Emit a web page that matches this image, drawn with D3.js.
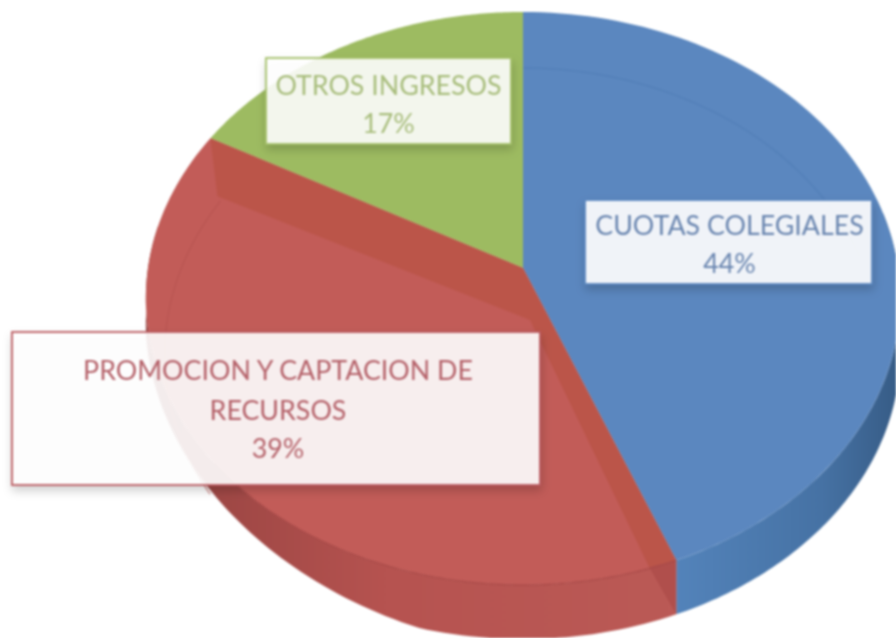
<!DOCTYPE html>
<html><head><meta charset="utf-8">
<style>html,body{margin:0;padding:0;background:#fff}svg{display:block;filter:blur(0.8px)}</style>
<script src="https://cdnjs.cloudflare.com/ajax/libs/d3/7.8.5/d3.min.js"></script>
</head><body><script>
const categories = ["CUOTAS COLEGIALES","PROMOCION Y CAPTACION DE RECURSOS","OTROS INGRESOS"];
const values = [44,39,17];
const labelLines = [["CUOTAS COLEGIALES","44%"],["PROMOCION Y CAPTACION DE","RECURSOS","39%"],["OTROS INGRESOS","17%"]];
const topColors = ["#5b87bf","#c25c58","#9dbb61"];
const sideColors = ["#4a74a6","#b85552","#8aa552"];
const textColors = ["#6a86b0","#b5626a","#a8bd7c"];
const borderColors = ["#5b87bf","#bb5a60","#a5c06a"];
const W=896,H=638;
const svg=d3.select("body").append("svg").attr("width",W).attr("height",H);
const defs=svg.append("defs");
const sh=defs.append("filter").attr("id","sh").attr("x","-10%").attr("y","-10%").attr("width","120%").attr("height","130%");
sh.append("feDropShadow").attr("dx",1).attr("dy",5).attr("stdDeviation",5).attr("flood-color","#000").attr("flood-opacity",.2);
const g1=defs.append("linearGradient").attr("id","sideB").attr("x1",0).attr("x2",1).attr("y1",0).attr("y2",0);
g1.append("stop").attr("offset","0").attr("stop-color","#5383ba");
g1.append("stop").attr("offset",".65").attr("stop-color","#4672a4");
g1.append("stop").attr("offset","1").attr("stop-color","#365b85");
const g2=defs.append("linearGradient").attr("id","sideR").attr("gradientUnits","userSpaceOnUse").attr("x1",150).attr("x2",680).attr("y1",0).attr("y2",0);
g2.append("stop").attr("offset","0").attr("stop-color","#944240");
g2.append("stop").attr("offset",".45").attr("stop-color","#b65350");
g2.append("stop").attr("offset","1").attr("stop-color","#bb5a56");
const sideFill=["url(#sideB)","url(#sideR)",sideColors[2]];

const cx=523,cy=268,B=375,A=283.3,p=0.1065;
const proj=(a,r=1)=>{const ux=r*Math.sin(a),uy=-r*Math.cos(a),w=1-p*uy;return [cx+B*ux/w,cy+A*uy/w];};
const depth=a=>{const ux=Math.sin(a);return ux<-0.25?54-30*Math.min(1,(-ux-0.25)/0.7):54;};
const lower=a=>{const q=proj(a);return [q[0],q[1]+depth(a)];};
const arcs=d3.pie().sort(null).value(d=>d)(values);
const samples=(s,e)=>d3.range(0,101).map(i=>s+(e-s)*i/100);
const line=d3.line();
const close=d3.line().curve(d3.curveLinearClosed);

// sides (front half only)
arcs.forEach((d,i)=>{
  const s=Math.max(d.startAngle,Math.PI/2-0.2),e=Math.min(d.endAngle,3*Math.PI/2+0.15);
  if(e<=s)return;
  const t=samples(s,e);
  svg.append("path").attr("d",close(t.map(a=>proj(a)).concat(t.slice().reverse().map(lower)))).attr("fill",sideFill[i]);
});
// top faces
arcs.forEach((d,i)=>{
  const pts=[proj(0,0)].concat(samples(d.startAngle,d.endAngle).map(a=>proj(a)));
  svg.append("path").attr("d",close(pts)).attr("fill",topColors[i]);
});
// darker bevel band on the red slice
const red=arcs[1];
const pA=proj(0,0),pBR=proj(red.startAngle),pUL=proj(red.endAngle);
svg.append("path").attr("d",close([pA,pBR,[pBR[0]-27,pBR[1]+7],[pA[0]+7,pA[1]+52],[pUL[0]+7,pUL[1]+58],pUL])).attr("fill","#bb5549");
svg.append("path").attr("d",close([pBR,[pBR[0],pBR[1]+54],[pBR[0]-14,pBR[1]+30],[pBR[0]-27,pBR[1]+7]])).attr("fill","#b04f4c");
// rim between the top face and the side
svg.append("path").attr("d",line(samples(red.startAngle,red.startAngle+1.25).map(a=>proj(a)))).attr("fill","none").attr("stroke","#a84a48").attr("stroke-width",1.2);
// faint inner rim of the far half
[[arcs[0],"#4f7cb4"],[arcs[1],"#b65450"]].forEach(([d,c],i)=>{
  const s=i?3*Math.PI/2-0.6:0,e=i?d.endAngle-0.03:Math.PI/2-0.25;
  svg.append("path").attr("d",line(samples(s,e).map(a=>{const q=proj(a);return [cx+(q[0]-cx)*.95,q[1]+56];}))).attr("fill","none").attr("stroke",c).attr("stroke-width",1.5).attr("opacity",.6);
});

// labels
const boxes=[[585,200,287,84],[12,332,528,153],[266,58,245,86]];
const baselines=[[235,273],[380,420,458],[95,133]];
const textShift=[1,2,0];
const alpha=[.9,.89,.88];
labelLines.forEach((ls,i)=>{
  const [x,y,w,h]=boxes[i];
  svg.append("rect").attr("x",x).attr("y",y).attr("width",w).attr("height",h)
    .attr("fill","#fff").attr("fill-opacity",alpha[i]).attr("stroke",borderColors[i]).attr("stroke-width",1.8).attr("filter","url(#sh)");
  ls.forEach((t,j)=>svg.append("text").attr("x",x+w/2+textShift[i]).attr("y",baselines[i][j]).attr("text-anchor","middle")
    .attr("font-family","Lato, 'Open Sans', sans-serif").attr("font-size",26.8).attr("fill",textColors[i]).text(t));
});
</script></body></html>
